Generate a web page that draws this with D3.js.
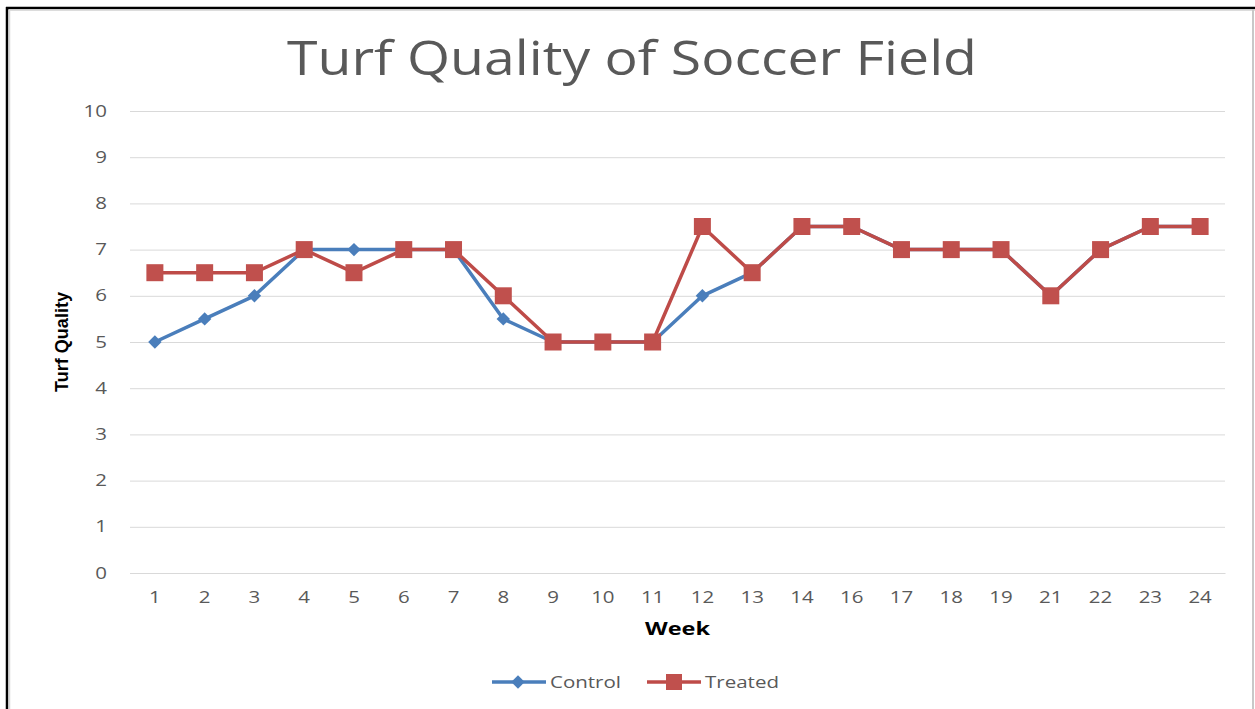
<!DOCTYPE html>
<html>
<head>
<meta charset="utf-8">
<script src="https://cdn.jsdelivr.net/npm/d3@7"></script>
<style>
  body { margin:0; background:#fff; }
  #canvas { width:1255px; height:709px; }
</style>
</head>
<body>
<div id="canvas" class="canvas"></div>
<script>
// chart values
var weeks = ['1','2','3','4','5','6','7','8','9','10','11','12','13','14','16','17','18','19','21','22','23','24'];
var control = [5,5.5,6,7,7,7,7,5.5,5,5,5,6,6.5,7.5,7.5,7,7,7,6,7,7.5,7.5];
var treated = [6.5,6.5,6.5,7,6.5,7,7,6,5,5,5,7.5,6.5,7.5,7.5,7,7,7,6,7,7.5,7.5];
var yTicks = [0,1,2,3,4,5,6,7,8,9,10];

var W = 1255, H = 709;
var m = {t:111, r:30, b:136, l:130};
var w = W - m.l - m.r,
    h = H - m.t - m.b;
var FONT = 'Open Sans, sans-serif';
var SX = 1.28; // the reference text is drawn wide

var svg = d3.select('.canvas')
    .append('svg')
    .attr('width', W)
    .attr('height', H);

// outer frame
svg.append('line').attr('x1',7).attr('x2',7).attr('y1',7).attr('y2',H)
    .attr('stroke','#000').attr('stroke-width',2.5);
svg.append('line').attr('x1',6).attr('x2',W).attr('y1',8).attr('y2',8)
    .attr('stroke','#000').attr('stroke-width',2.5);
svg.append('line').attr('x1',9).attr('x2',W).attr('y1',10).attr('y2',10)
    .attr('stroke','#d0d0d0').attr('stroke-width',1.5);
svg.append('line').attr('x1',9.5).attr('x2',9.5).attr('y1',10).attr('y2',H)
    .attr('stroke','#d8d8d8').attr('stroke-width',1.5);
svg.append('line').attr('x1',1253).attr('x2',1253).attr('y1',9).attr('y2',H)
    .attr('stroke','#c8c8c8').attr('stroke-width',2);

var plot = svg.append('g')
    .attr('transform','translate(' + m.l + ',' + m.t + ')');

var scaleX = d3.scaleBand().domain(weeks).range([0, w]);
var scaleY = d3.scaleLinear().domain([0, 10]).range([h, 0]);

// gridlines + y labels
var axisY = d3.axisLeft(scaleY).tickValues(yTicks).tickSize(-w).tickPadding(0);
var gy = plot.append('g').call(axisY);
gy.select('.domain').remove();
gy.selectAll('.tick line').attr('stroke','#d9d9d9').attr('stroke-width',1);
gy.selectAll('.tick text').attr('fill','#595959')
    .style('font-family',FONT).style('font-size','16px')
    .attr('text-anchor','end').attr('x', -23 / SX)
    .attr('transform','scale(' + SX + ',1)');

// x axis
var axisX = d3.axisBottom(scaleX).tickSize(0).tickPadding(19);
var gx = plot.append('g').attr('transform','translate(0,' + h + ')').call(axisX);
gx.select('.domain').attr('stroke','#d9d9d9');
gx.selectAll('.tick text').attr('fill','#595959')
    .style('font-family',FONT).style('font-size','16px')
    .attr('transform','scale(' + SX + ',1)');

var cx = function(d, i){ return scaleX(weeks[i]) + scaleX.bandwidth()/2; };

var line = d3.line()
    .x(function(d, i){ return cx(d, i); })
    .y(function(d){ return scaleY(d); });

var diamond = d3.symbol().type(d3.symbolSquare).size(90);

// control
plot.append('path').datum(control)
    .attr('d', line).attr('fill','none')
    .attr('stroke','#4a7ebb').attr('stroke-width',3.5).attr('stroke-linejoin','round');
plot.selectAll('.dia').data(control).enter().append('path')
    .attr('class','dia')
    .attr('d', diamond)
    .attr('transform', function(d, i){ return 'translate(' + cx(d, i) + ',' + scaleY(d) + ') rotate(45)'; })
    .attr('fill','#4a7ebb');

// treated
plot.append('path').datum(treated)
    .attr('d', line).attr('fill','none')
    .attr('stroke','#be4b48').attr('stroke-width',3.5).attr('stroke-linejoin','round');
plot.selectAll('.sq').data(treated).enter().append('rect')
    .attr('class','sq')
    .attr('x', function(d, i){ return cx(d, i) - 8.5; })
    .attr('y', function(d){ return scaleY(d) - 8.5; })
    .attr('width',17).attr('height',17)
    .attr('fill','#c0504d');

// title
svg.append('text').attr('x',287).attr('y',75)
    .attr('fill','#595959')
    .attr('textLength',690).attr('lengthAdjust','spacingAndGlyphs')
    .style('font-family',FONT).style('font-size','47px')
    .text('Turf Quality of Soccer Field');

// axis titles
svg.append('text').attr('x',645).attr('y',635)
    .attr('fill','#000').style('font-weight','bold')
    .attr('textLength',65).attr('lengthAdjust','spacingAndGlyphs')
    .style('font-family',FONT).style('font-size','17px')
    .text('Week');
svg.append('text').attr('transform','translate(68,342) rotate(-90)').attr('text-anchor','middle')
    .attr('fill','#000').style('font-weight','bold')
    .attr('textLength',100).attr('lengthAdjust','spacingAndGlyphs')
    .style('font-family','Liberation Sans Narrow, Liberation Sans, sans-serif').style('font-size','18px')
    .text('Turf Quality');

// legend
var legend = svg.append('g').attr('transform','translate(0,682)');
legend.append('line').attr('x1',492).attr('x2',546).attr('y1',0).attr('y2',0)
    .attr('stroke','#4a7ebb').attr('stroke-width',3.5);
legend.append('path').attr('d', diamond)
    .attr('transform','translate(518,0) rotate(45)').attr('fill','#4a7ebb');
legend.append('text').attr('x',550).attr('y',6).attr('fill','#595959')
    .attr('textLength',71).attr('lengthAdjust','spacingAndGlyphs')
    .style('font-family',FONT).style('font-size','17px').text('Control');
legend.append('line').attr('x1',647).attr('x2',701).attr('y1',0).attr('y2',0)
    .attr('stroke','#be4b48').attr('stroke-width',3.5);
legend.append('rect').attr('x',666).attr('y',-8).attr('width',16).attr('height',16)
    .attr('fill','#c0504d');
legend.append('text').attr('x',705).attr('y',6).attr('fill','#595959')
    .attr('textLength',74).attr('lengthAdjust','spacingAndGlyphs')
    .style('font-family',FONT).style('font-size','17px').text('Treated');
</script>
</body>
</html>
